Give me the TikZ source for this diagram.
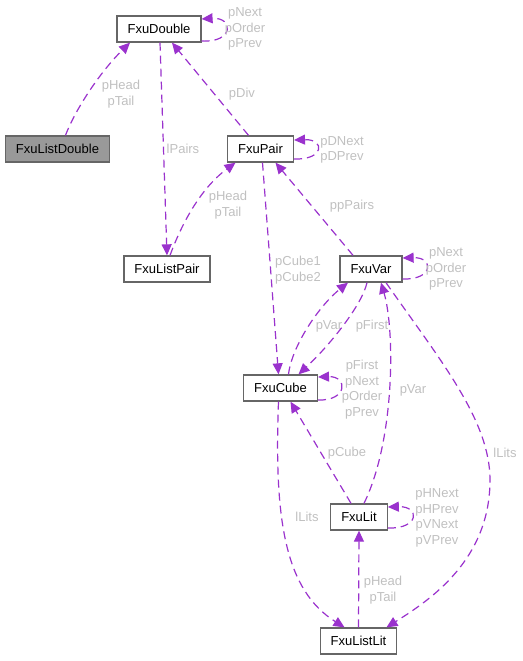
\documentclass[tikz,border=0pt]{standalone}
\usepackage{fontspec}
\setmainfont{Liberation Sans}
\usetikzlibrary{arrows.meta}
\definecolor{edgepurple}{HTML}{9A32CD}
\definecolor{lblgrey}{HTML}{C0C0C0}
\definecolor{boxgrey}{HTML}{666666}
\definecolor{hlfill}{HTML}{999999}
\tikzset{
  cls/.style={draw=boxgrey, fill=white, line width=1.3pt, minimum height=26pt,
    inner xsep=10.5pt, inner ysep=0pt, font=\fontsize{13}{15.5}\selectfont},
  clshl/.style={cls, fill=hlfill},
  rel/.style={draw=edgepurple, line width=1.2pt, dash pattern=on 8pt off 5pt,
    -{Triangle[length=11pt,width=10pt]}},
  lbl/.style={text=lblgrey, align=center, inner sep=0pt,
    font=\fontsize{13}{15.5}\selectfont},
}
\begin{document}
\begin{tikzpicture}[x=1pt,y=-1pt]
\useasboundingbox (0,0) rectangle (522,661);
% classes
\node[cls] (d) at (159,29) {FxuDouble};
\node[clshl] (ld) at (57.5,149) {FxuListDouble};
\node[cls] (p) at (260.5,149) {FxuPair};
\node[cls] (lp) at (167,269) {FxuListPair};
\node[cls] (v) at (371,269) {FxuVar};
\node[cls] (c) at (280.5,388) {FxuCube};
\node[cls] (l) at (359,517) {FxuLit};
\node[cls] (ll) at (358.5,641) {FxuListLit};
% relations
\draw[rel] ([xshift=8pt]ld.north) .. controls (75,110) and (100,72) .. ([xshift=-29pt]d.south);
\draw[rel] ([yshift=-12pt]d.east) .. controls (234,43) and (234,17) .. ([yshift=10pt]d.east);
\draw[rel] ([xshift=1pt]d.south) -- (lp.north);
\draw[rel] ([xshift=-12pt]p.north) -- ([xshift=13pt]d.south);
\draw[rel] ([yshift=-10pt]p.east) .. controls (325,160) and (325,139) .. ([yshift=9pt]p.east);
\draw[rel] ([xshift=3pt]lp.north) .. controls (185,215) and (205,185) .. ([xshift=-25pt]p.south);
\draw[rel] ([xshift=-18pt]v.north) -- ([xshift=15pt]p.south);
\draw[rel] ([xshift=2pt]p.south) -- ([xshift=-2pt]c.north);
\draw[rel] ([yshift=-10pt]v.east) .. controls (434,280) and (434,257) .. ([yshift=11pt]v.east);
\draw[rel] ([xshift=8pt]c.north) .. controls (292,345) and (320,305) .. ([xshift=-23pt]v.south);
\draw[rel] ([xshift=-4pt]v.south) .. controls (362,305) and (330,345) .. ([xshift=18pt]c.north);
\draw[rel] ([yshift=-12pt]c.east) .. controls (348,401) and (348,376) .. ([yshift=11pt]c.east);
\draw[rel] ([xshift=5pt]l.north) .. controls (395,440) and (395,330) .. ([xshift=10pt]v.south);
\draw[rel] ([xshift=15pt]v.south) .. controls (440,360) and (490,420) .. (490,480)
  .. controls (490,560) and (430,600) .. ([xshift=28pt]ll.north);
\draw[rel] ([xshift=-8pt]l.north) -- ([xshift=10pt]c.south);
\draw[rel] ([xshift=-2pt]c.south) .. controls (274,520) and (285,590) .. ([xshift=-14pt]ll.north);
\draw[rel] (ll.north) -- (l.south);
\draw[rel] ([yshift=-11pt]l.east) .. controls (420,529) and (420,506) .. ([yshift=10pt]l.east);
% labels
\node[lbl] (t1) at (121,94) {pHead\\pTail};
\node[lbl] (t2) at (245,29) {pNext\\pOrder\\pPrev};
\node[lbl] (t3) at (183,149) {lPairs};
\node[lbl] (t4) at (242,94) {pDiv};
\node[lbl] (t5) at (342,150) {pDNext\\pDPrev};
\node[lbl] (t6) at (228,205) {pHead\\pTail};
\node[lbl] (t7) at (352,206) {ppPairs};
\node[lbl] (t8) at (298,270) {pCube1\\pCube2};
\node[lbl] (t9) at (446,269) {pNext\\pOrder\\pPrev};
\node[lbl] (t10) at (329,326) {pVar};
\node[lbl] (t11) at (372,326) {pFirst};
\node[lbl] (t12) at (362,389.5) {pFirst\\pNext\\pOrder\\pPrev};
\node[lbl] (t13) at (413,390) {pVar};
\node[lbl] (t14) at (347,453) {pCube};
\node[lbl] (t15) at (505,453) {lLits};
\node[lbl] (t16) at (307,517) {lLits};
\node[lbl] (t17) at (437,518) {pHNext\\pHPrev\\pVNext\\pVPrev};
\node[lbl] (t18) at (383,590) {pHead\\pTail};
\end{tikzpicture}
\end{document}
